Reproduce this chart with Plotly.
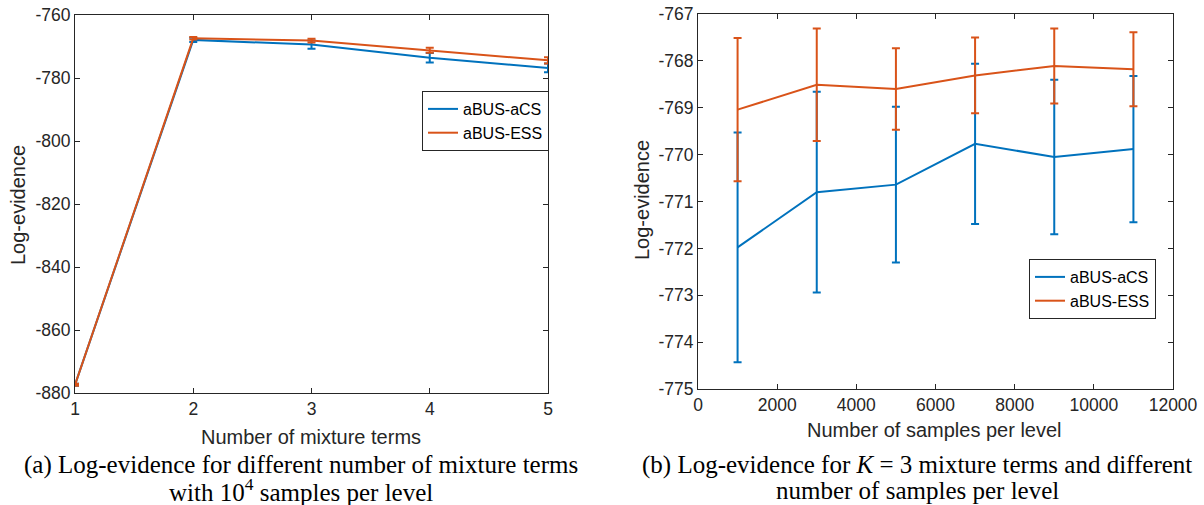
import plotly.graph_objects as go

# ---- data: left panel (number of mixture terms) ----
mix_terms = [1, 2, 3, 4, 5]
acs_mix = [-877.4, -767.9, -769.4, -773.6, -776.8]
acs_mix_err = [0.3, 0.7, 1.3, 1.5, 1.4]
ess_mix = [-877.4, -767.4, -768.1, -771.2, -774.4]
ess_mix_err = [0.3, 0.4, 0.6, 0.8, 1.0]

# ---- data: right panel (samples per level) ----
samples = [1000, 3000, 5000, 7000, 9000, 11000]
acs_samp = [-771.98, -770.80, -770.64, -769.77, -770.05, -769.88]
acs_samp_err = [2.45, 2.14, 1.66, 1.71, 1.65, 1.56]
ess_samp = [-769.04, -768.51, -768.60, -768.31, -768.11, -768.18]
ess_samp_err = [1.53, 1.20, 0.87, 0.81, 0.80, 0.79]

left_yticks = [-880, -860, -840, -820, -800, -780, -760]
right_yticks = [-775, -774, -773, -772, -771, -770, -769, -768, -767]
left_xticks = [1, 2, 3, 4, 5]
right_xticks = [0, 2000, 4000, 6000, 8000, 10000, 12000]

BLUE = "#0072BD"
ORANGE = "#D95319"
AX = "#262626"
W, H = 1204, 505
SANS = "Liberation Sans, Arial, sans-serif"

fig = go.Figure()

def add(x, y, err, name, color, xa, ya, leg):
    fig.add_trace(go.Scatter(
        x=x, y=y, name=name, mode="lines",
        line=dict(color=color, width=2),
        error_y=dict(type="data", array=err, visible=True, color=color,
                     thickness=2, width=4),
        xaxis=xa, yaxis=ya, legend=leg, cliponaxis=False,
    ))

add(mix_terms, acs_mix, acs_mix_err, "aBUS-aCS", BLUE, "x", "y", "legend")
add(mix_terms, ess_mix, ess_mix_err, "aBUS-ESS", ORANGE, "x", "y", "legend")
add(samples, acs_samp, acs_samp_err, "aBUS-aCS", BLUE, "x2", "y2", "legend2")
add(samples, ess_samp, ess_samp_err, "aBUS-ESS", ORANGE, "x2", "y2", "legend2")

tickfont = dict(family=SANS, size=17.5, color=AX)
titlefont = dict(family=SANS, size=20, color=AX)

def axis_common():
    return dict(showline=True, linecolor=AX, linewidth=1, mirror="ticks",
                ticks="inside", ticklen=5, tickcolor=AX, showgrid=False,
                zeroline=False, tickfont=tickfont, automargin=False)

def labels(vals):
    return [str(v) for v in vals]

L0, L1 = 75 / W, 548 / W
R0, R1 = 698 / W, 1173 / W

legfont = dict(family=SANS, size=16, color="black")

fig.update_layout(
    template="none",
    width=W, height=H, margin=dict(l=0, r=0, t=0, b=0, pad=0), autosize=False,
    paper_bgcolor="white", plot_bgcolor="white",
    xaxis=dict(**axis_common(), domain=[L0, L1], range=[1, 5],
               tickvals=left_xticks, ticktext=labels(left_xticks), anchor="y"),
    yaxis=dict(**axis_common(), domain=[1 - 393 / H, 1 - 15 / H],
               range=[-880, -760], tickvals=left_yticks,
               ticktext=labels(left_yticks), anchor="x"),
    xaxis2=dict(**axis_common(), domain=[R0, R1], range=[0, 12000],
                tickvals=right_xticks, ticktext=labels(right_xticks), anchor="y2"),
    yaxis2=dict(**axis_common(), domain=[1 - 389 / H, 1 - 14 / H],
                range=[-775, -767], tickvals=right_yticks,
                ticktext=labels(right_yticks), anchor="x2"),
    legend=dict(x=422 / W, y=1 - 91 / H, xanchor="left", yanchor="top",
                bgcolor="white", bordercolor=AX, borderwidth=1,
                font=legfont, tracegroupgap=0),
    legend2=dict(x=1029 / W, y=1 - 259 / H, xanchor="left", yanchor="top",
                 bgcolor="white", bordercolor=AX, borderwidth=1,
                 font=legfont, tracegroupgap=0),
    showlegend=True,
)

def ann(text, x, y, font, angle=0):
    fig.add_annotation(x=x / W, y=1 - y / H, xref="paper", yref="paper",
                       text=text, showarrow=False, font=font, textangle=angle,
                       xanchor="center", yanchor="middle")

# axis titles
ann("Number of mixture terms", 311, 437, titlefont)
ann("Number of samples per level", 935, 430, titlefont)
ann("Log-evidence", 18, 205, titlefont, -90)
ann("Log-evidence", 642, 200, titlefont, -90)

# captions
capfont = dict(family="Liberation Serif, Times New Roman, serif", size=25, color="black")
ann("(a) Log-evidence for different number of mixture terms", 301, 465, capfont)
ann("with 10<sup>4</sup> samples per level", 301, 490, capfont)
ann("(b) Log-evidence for <i>K</i> = 3 mixture terms and different", 917, 465, capfont)
ann("number of samples per level", 917, 490, capfont)

fig.write_html("out.html", config={"displayModeBar": False},
               post_script="document.body.style.margin='0';document.body.style.overflow='hidden';")
